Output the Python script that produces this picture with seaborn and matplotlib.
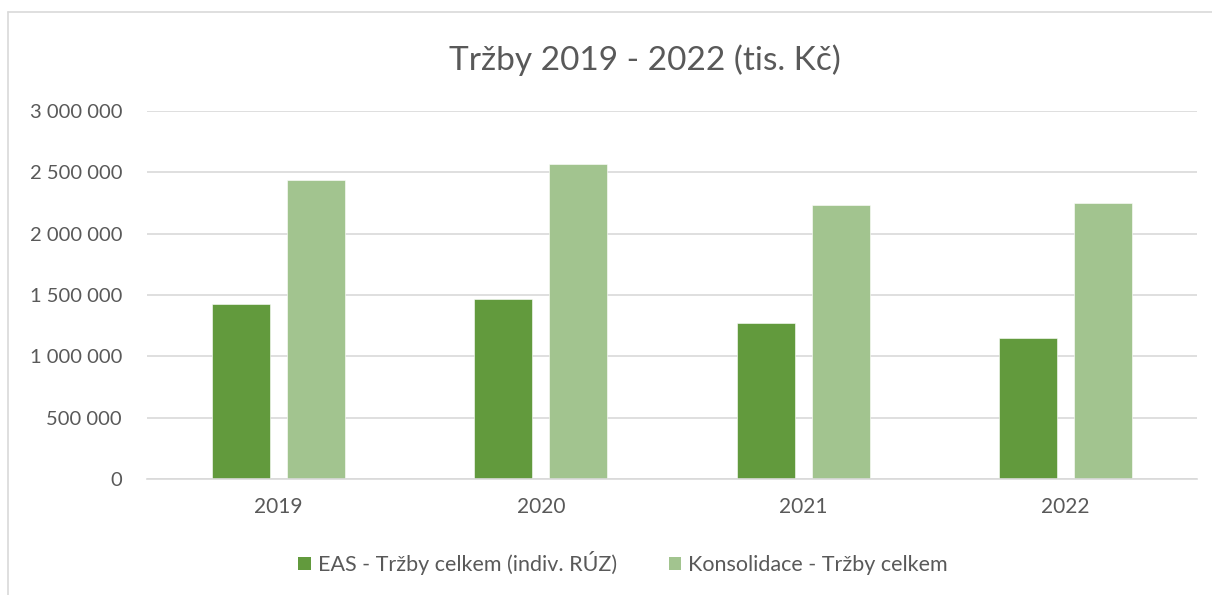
import pandas as pd
import numpy as np
import matplotlib.pyplot as plt
import seaborn as sns
from matplotlib.patches import Patch
from matplotlib.lines import Line2D

years = ["2019", "2020", "2021", "2022"]
eas = [1428000, 1469000, 1270000, 1150000]
kons = [2436000, 2567000, 2237000, 2250000]
series_names = ["EAS - Tržby celkem (indiv. RÚZ)", "Konsolidace - Tržby celkem"]
y_ticks = [0, 500000, 1000000, 1500000, 2000000, 2500000, 3000000]

colors = ["#629A3D", "#A2C48F"]
text_col = "#595959"

df = pd.DataFrame({
    "Rok": years * 2,
    "Tržby": eas + kons,
    "Série": [series_names[0]] * 4 + [series_names[1]] * 4,
})

sns.set_style("white")
plt.rcParams["font.family"] = ["Lato", "DejaVu Sans"]

fig = plt.figure(figsize=(12.12, 5.95), dpi=100)
ax = fig.add_axes([147 / 1212, 1 - 479 / 595, (1197 - 147) / 1212, (479 - 111) / 595])

sns.barplot(data=df, x="Rok", y="Tržby", hue="Série", palette=colors,
            width=0.573, gap=0.227, ax=ax, legend=False, saturation=1,
            edgecolor="#FFFFFF", linewidth=0.4)

ax.set_ylim(0, 3000000)
ax.set_xlim(-0.5, 3.5)
ax.set_yticks(y_ticks)
ax.set_yticklabels([f"{v:,}".replace(",", " ") for v in y_ticks])
ax.yaxis.grid(True, color="#D9D9D9", linewidth=1.2)
ax.set_axisbelow(True)
for s in ["top", "right", "left"]:
    ax.spines[s].set_visible(False)
ax.spines["bottom"].set_color("#D9D9D9")
ax.spines["bottom"].set_linewidth(1.2)
ax.tick_params(axis="y", length=0, labelsize=14.5, colors=text_col, pad=18)
ax.tick_params(axis="x", length=0, labelsize=15, colors=text_col, pad=13)
ax.set_xlabel("")
ax.set_ylabel("")

fig.text(645 / 1212, 1 - 60 / 595, "Tržby 2019 - 2022 (tis. Kč)", ha="center", va="center",
         fontsize=24, color=text_col)

handles = [Patch(facecolor=c, edgecolor="none") for c in colors]
fig.legend(handles, series_names, loc="center", bbox_to_anchor=(0.514, 1 - 563 / 595),
           ncol=2, frameon=False, fontsize=15.5, labelcolor=text_col,
           handlelength=0.6, handleheight=0.6, handletextpad=0.3, columnspacing=2.4)

# chart frame (top and left edges visible)
fig.add_artist(Line2D([8 / 1212, 8 / 1212], [0, 1 - 12 / 595], transform=fig.transFigure,
                      color="#D9D9D9", linewidth=1.2))
fig.add_artist(Line2D([8 / 1212, 1], [1 - 12 / 595, 1 - 12 / 595], transform=fig.transFigure,
                      color="#D9D9D9", linewidth=1.2))

fig.savefig("out.png", dpi=100, facecolor="white")
